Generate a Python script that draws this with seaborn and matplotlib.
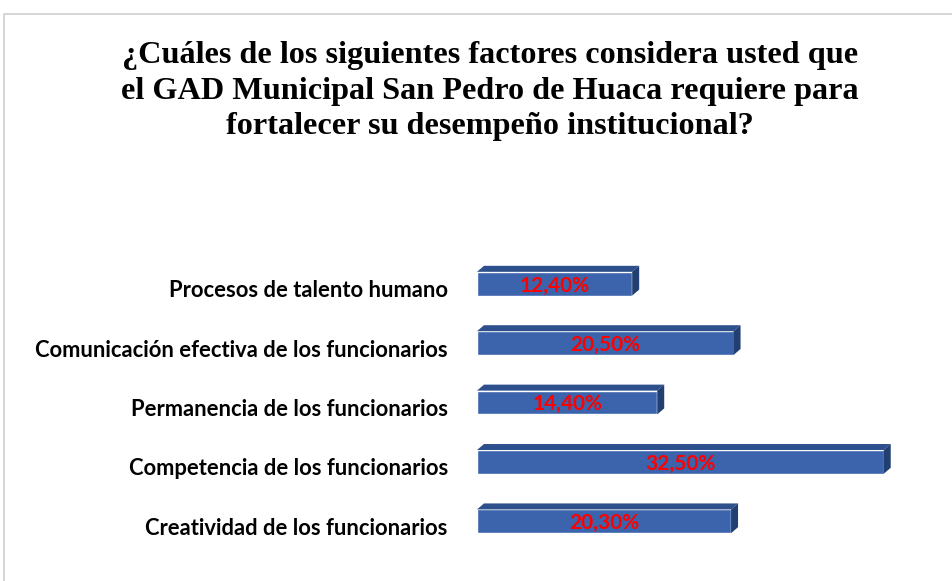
import matplotlib
matplotlib.use("Agg")
import matplotlib.pyplot as plt
import matplotlib.transforms as mtransforms
from matplotlib.patches import Polygon, Rectangle
import pandas as pd
import seaborn as sns

categories = [
    "Procesos de talento humano",
    "Comunicación efectiva de los funcionarios",
    "Permanencia de los funcionarios",
    "Competencia de los funcionarios",
    "Creatividad de los funcionarios",
]
values = [12.40, 20.50, 14.40, 32.50, 20.30]
value_labels = ["12,40%", "20,50%", "14,40%", "32,50%", "20,30%"]

title = ("¿Cuáles de los siguientes factores considera usted que\n"
         "el GAD Municipal San Pedro de Huaca requiere para\n"
         "fortalecer su desempeño institucional?")

df = pd.DataFrame({"factor": categories, "pct": values})

sns.set_theme(style="white")
plt.rcParams['font.family'] = ['Lato', 'DejaVu Sans']

W, H = 952, 581
fig = plt.figure(figsize=(W / 100, H / 100), dpi=100)
fig.patch.set_facecolor("white")

# light grey frame (left and top edges visible)
fig.patches.append(Rectangle((4 / W, -0.1), 1.2, (H - 14) / H + 0.1,
                             transform=fig.transFigure, fill=False,
                             edgecolor="#d0d0d0", linewidth=1.2))

# axes in pixel terms: left 477, right 900, top 254, bottom 551
ax = fig.add_axes([477 / W, (H - 551) / H, (900 - 477) / W, (551 - 254) / H])

front = "#3b64ad"
top_c = "#2d4f8c"
side_c = "#223f72"

sns.barplot(data=df, x="pct", y="factor", orient="h", color=front,
            saturation=1, width=0.40, ax=ax, zorder=3)

ax.set_xlim(0, 33.8)
ax.set_ylim(4.5, -0.5)

# fake 3d depth for each bar
dx = 7 / 12.52
dy = 6 / 59.4
for p in ax.patches[:len(values)]:
    x0 = p.get_x()
    x1 = x0 + p.get_width()
    yt = p.get_y()
    yb = yt + p.get_height()
    ax.add_patch(Polygon([(x0, yt), (x0 + dx, yt - dy), (x1 + dx, yt - dy), (x1, yt)],
                         closed=True, facecolor=top_c, edgecolor="none", zorder=3))
    ax.add_patch(Polygon([(x1, yt), (x1 + dx, yt - dy), (x1 + dx, yb - dy), (x1, yb)],
                         closed=True, facecolor=side_c, edgecolor="none", zorder=3))

for i, (v, lab) in enumerate(zip(values, value_labels)):
    ax.text(v / 2, i + 0.03, lab, ha="center", va="center", color="#ff0000",
            fontsize=15, fontweight="bold", zorder=5)

ax.set_xlabel("")
ax.set_ylabel("")
ax.set_xticks([])
ax.tick_params(axis="y", length=0, pad=21)
shift = mtransforms.ScaledTranslation(0, -5 / 100, fig.dpi_scale_trans)
for lbl in ax.get_yticklabels():
    lbl.set_fontweight("bold")
    lbl.set_fontsize(15.8)
    lbl.set_color("black")
    lbl.set_transform(lbl.get_transform() + shift)
for s in ax.spines.values():
    s.set_visible(False)
ax.patch.set_alpha(0)

fig.text(490 / W, 1 - 41 / H, title, ha="center", va="top", color="black",
         family=["Liberation Serif", "DejaVu Serif"], fontweight="bold",
         fontsize=23.2, linespacing=1.3)

fig.savefig("out.png", dpi=100, facecolor="white")
